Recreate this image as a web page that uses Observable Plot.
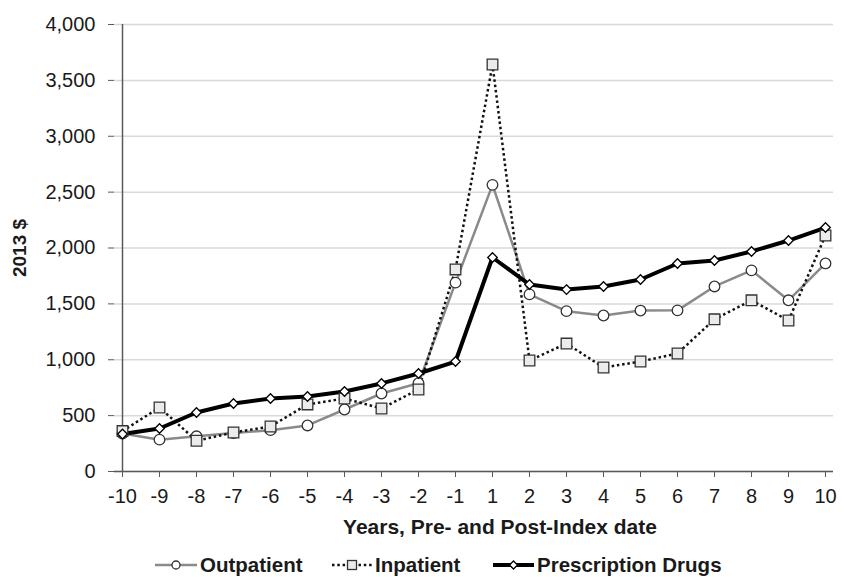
<!DOCTYPE html>
<html>
<head>
<meta charset="utf-8">
<script src="https://cdn.jsdelivr.net/npm/d3@7"></script>
<script src="https://cdn.jsdelivr.net/npm/@observablehq/plot@0.6"></script>
<style>
  html, body { margin: 0; padding: 0; background: #fff; }
  #wrap { width: 845px; height: 577px; position: relative; overflow: hidden; font-family: "Liberation Sans", Arial, sans-serif; }
  #legend { position: absolute; left: 0; top: 545px; width: 845px; height: 40px; }
  .item { position: absolute; top: 0; height: 40px; display: flex; align-items: center; }
  .item span { font-weight: bold; font-size: 20.5px; color: #1a1a1a; margin-left: 3px; }
</style>
</head>
<body>
<div id="wrap">
  <div id="chart"></div>
  <div id="legend"></div>
</div>
<script>
// ---- data ----
const years = ["-10","-9","-8","-7","-6","-5","-4","-3","-2","-1","1","2","3","4","5","6","7","8","9","10"];
const outpatient        = [340, 285, 315, 345, 370, 412, 555, 698, 790, 1690, 2565, 1585, 1435, 1396, 1440, 1442, 1656, 1800, 1532, 1862];
const inpatient         = [362, 573, 275, 349, 403, 600, 653, 564, 734, 1808, 3642, 993, 1145, 931, 984, 1056, 1362, 1532, 1351, 2112];
const prescriptionDrugs = [335, 385, 528, 608, 653, 671, 716, 788, 877, 984, 1915, 1673, 1628, 1655, 1718, 1861, 1888, 1969, 2067, 2183];
const yTicks = [0, 500, 1000, 1500, 2000, 2500, 3000, 3500, 4000];
const seriesNames = ["Outpatient", "Inpatient", "Prescription Drugs"];
const xTitle = "Years, Pre- and Post-Index date";
const yTitle = "2013 $";

const rows = arr => years.map((yr, i) => ({year: yr, value: arr[i]}));
const outRows = rows(outpatient);
const inRows = rows(inpatient);
const rxRows = rows(prescriptionDrugs);

const axisColor = "#595959";

const chart = Plot.plot({
  width: 845,
  height: 545,
  marginLeft: 114,
  marginRight: 12,
  marginTop: 24,
  marginBottom: 74,
  style: {fontFamily: "Liberation Sans, Arial, sans-serif", background: "#fff", color: "#1a1a1a"},
  x: {type: "point", domain: years, padding: 0},
  y: {domain: [0, 4000]},
  marks: [
    Plot.gridY(yTicks, {stroke: "#d9d9d9", strokeOpacity: 1, strokeWidth: 1.5}),
    Plot.axisY(yTicks, {tickFormat: d3.format(","), tickSize: 6, tickPadding: 13, fontSize: 20, stroke: axisColor, label: null}),
    Plot.axisX(years, {tickSize: 6, tickPadding: 11, fontSize: 20, stroke: axisColor, label: null}),
    Plot.ruleX([years[0]], {stroke: axisColor, strokeWidth: 1.5}),
    Plot.ruleY([0], {stroke: axisColor, strokeWidth: 1.5}),
    Plot.line(outRows, {x: "year", y: "value", stroke: "#8a8a8a", strokeWidth: 2.5}),
    Plot.line(inRows, {x: "year", y: "value", stroke: "#111", strokeWidth: 2.5, strokeDasharray: "2.5 2.8", strokeLinecap: "butt"}),
    Plot.line(rxRows, {x: "year", y: "value", stroke: "#000", strokeWidth: 4}),
    Plot.dot(outRows, {x: "year", y: "value", symbol: "circle", r: 5.3, fill: "#fff", stroke: "#333", strokeWidth: 1.3}),
    Plot.dot(inRows, {x: "year", y: "value", symbol: "square", r: 6, fill: "#ebebeb", stroke: "#333", strokeWidth: 1.3}),
    Plot.dot(rxRows, {x: "year", y: "value", symbol: "diamond2", r: 4.3, fill: "#fff", stroke: "#000", strokeWidth: 1.3}),
    Plot.text([xTitle], {frameAnchor: "bottom", lineAnchor: "middle", textAnchor: "middle", dy: 56, dx: 26, fontSize: 21, fontWeight: "bold"}),
    Plot.text([yTitle], {frameAnchor: "left", lineAnchor: "middle", textAnchor: "middle", dx: -95, rotate: -90, fontSize: 19, fontWeight: "bold"})
  ]
});
document.getElementById("chart").appendChild(chart);

// ---- legend ----
const legendStyles = [
  {left: 155, w: 42, stroke: "#8a8a8a", sw: 2.5, dash: null, sym: "circle"},
  {left: 332, w: 40, stroke: "#111", sw: 2.5, dash: "2.5 2.8", sym: "square"},
  {left: 493, w: 41, stroke: "#000", sw: 4, dash: null, sym: "diamond"}
];
const legend = d3.select("#legend");
seriesNames.forEach((name, i) => {
  const s = legendStyles[i];
  const item = legend.append("div").attr("class", "item").style("left", s.left + "px");
  const svg = item.append("svg").attr("width", s.w).attr("height", 20);
  svg.append("line").attr("x1", 0).attr("x2", s.w).attr("y1", 10).attr("y2", 10)
    .attr("stroke", s.stroke).attr("stroke-width", s.sw)
    .attr("stroke-dasharray", s.dash);
  const cx = s.w / 2;
  if (s.sym === "circle") {
    svg.append("circle").attr("cx", cx).attr("cy", 10).attr("r", 4).attr("fill", "#fff").attr("stroke", "#333").attr("stroke-width", 1.3);
  } else if (s.sym === "square") {
    svg.append("rect").attr("x", cx - 4.5).attr("y", 5.5).attr("width", 9).attr("height", 9).attr("fill", "#ebebeb").attr("stroke", "#333").attr("stroke-width", 1.3);
  } else {
    svg.append("path").attr("d", `M${cx},6L${cx + 4},10L${cx},14L${cx - 4},10Z`).attr("fill", "#fff").attr("stroke", "#000").attr("stroke-width", 1.3);
  }
  item.append("span").text(name);
});
</script>
</body>
</html>
